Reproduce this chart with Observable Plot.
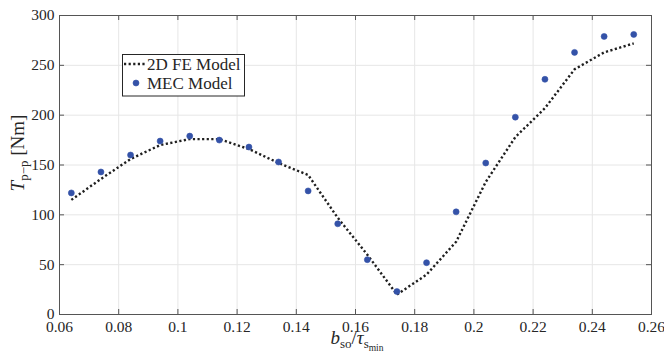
<!DOCTYPE html>
<html>
<head>
<meta charset="utf-8">
<script src="https://cdn.jsdelivr.net/npm/d3@7"></script>
<script src="https://cdn.jsdelivr.net/npm/@observablehq/plot@0.6"></script>
<style>
  html, body { margin: 0; padding: 0; background: #fff; }
  #chart svg { display: block; }
  #chart svg text { font-family: "Liberation Serif", "Times New Roman", serif; }
</style>
</head>
<body>
<div id="chart"></div>
<script>
// ---- data ----
const ratio = [0.064, 0.074, 0.084, 0.094, 0.104, 0.114, 0.124, 0.134, 0.144, 0.154,
               0.164, 0.174, 0.184, 0.194, 0.204, 0.214, 0.224, 0.234, 0.244, 0.254];
const feModel = [115, 136, 156, 170, 176, 176, 166, 152, 140, 97,
                 60, 20, 40, 73, 133, 178, 207, 246, 263, 272];
const mecModel = [122, 143, 160, 174, 179, 175, 168, 153, 124, 91,
                  55, 23, 52, 103, 152, 198, 236, 263, 279, 281];
const xTicks = [0.06, 0.08, 0.1, 0.12, 0.14, 0.16, 0.18, 0.2, 0.22, 0.24, 0.26];
const xTickLabels = ["0.06", "0.08", "0.1", "0.12", "0.14", "0.16", "0.18", "0.2", "0.22", "0.24", "0.26"];
const yTicks = [0, 50, 100, 150, 200, 250, 300];
const seriesNames = ["2D FE Model", "MEC Model"];

const feData = ratio.map((x, i) => ({x, y: feModel[i]}));
const mecData = ratio.map((x, i) => ({x, y: mecModel[i]}));

const W = 664, H = 360;
const mL = 59, mR = 13, mT = 15, mB = 46;
const plotW = W - mL - mR, plotH = H - mT - mB;
const tickLen = 5;
const frameColor = "#555";
const font = "'Liberation Serif', 'Times New Roman', serif";
const dotColor = "#3452a8";

const chart = Plot.plot({
  width: W,
  height: H,
  marginLeft: mL,
  marginRight: mR,
  marginTop: mT,
  marginBottom: mB,
  style: {fontFamily: font, fontSize: "15.5px", color: "#262626", background: "#fff"},
  x: {domain: [0.06, 0.26], label: null},
  y: {domain: [0, 300], label: null},
  marks: [
    Plot.gridX(xTicks, {stroke: "#e6e6e6", strokeOpacity: 1}),
    Plot.gridY(yTicks, {stroke: "#e6e6e6", strokeOpacity: 1}),
    Plot.line(feData, {x: "x", y: "y", stroke: "#1f1f1f", strokeWidth: 2.4,
                       strokeDasharray: "2.2,2.4", strokeLinecap: "butt"}),
    Plot.dot(mecData, {x: "x", y: "y", r: 3, fill: dotColor, stroke: dotColor, strokeWidth: 0.6}),
    Plot.tickX(xTicks, {x: d => d, insetTop: plotH - tickLen, stroke: frameColor}),
    Plot.tickX(xTicks, {x: d => d, insetBottom: plotH - tickLen, stroke: frameColor}),
    Plot.tickY(yTicks, {y: d => d, insetRight: plotW - tickLen, stroke: frameColor}),
    Plot.tickY(yTicks, {y: d => d, insetLeft: plotW - tickLen, stroke: frameColor}),
    Plot.frame({stroke: frameColor, strokeWidth: 1}),
    Plot.axisX(xTicks, {tickSize: 0, tickPadding: 6, tickFormat: (d, i) => xTickLabels[i],
                        fill: "#262626", label: null, fontFamily: font, fontSize: 15.5}),
    Plot.axisY(yTicks, {tickSize: 0, tickPadding: 5, fill: "#262626", label: null,
                        fontFamily: font, fontSize: 15.5})
  ]
});

document.getElementById("chart").appendChild(chart);

const svg = d3.select(chart);

// x axis label: b_so / tau_s_min
const xl = svg.append("text")
  .attr("x", 357).attr("y", 344)
  .attr("text-anchor", "middle")
  .attr("fill", "#262626")
  .style("font-size", "19px");
xl.append("tspan").attr("font-style", "italic").text("b");
xl.append("tspan").attr("font-size", "13px").attr("dy", 4).text("so");
xl.append("tspan").attr("dy", -4).text("/");
xl.append("tspan").attr("font-style", "italic").text("τ");
xl.append("tspan").attr("font-size", "13px").attr("dy", 4).text("s");
xl.append("tspan").attr("font-size", "9.5px").attr("dy", 2.5).text("min");

// y axis label: T_{p-p} [Nm]
const yl = svg.append("text")
  .attr("transform", "translate(24,153) rotate(-90)")
  .attr("text-anchor", "middle")
  .attr("fill", "#262626")
  .style("font-size", "19px");
yl.append("tspan").attr("font-style", "italic").text("T");
yl.append("tspan").attr("font-size", "13px").attr("dy", 4).text("p−p");
yl.append("tspan").attr("dy", -4).text(" [Nm]");

// legend
const lg = svg.append("g").style("font-size", "17px").attr("text-anchor", "start");
lg.append("rect")
  .attr("x", 122.5).attr("y", 54.5).attr("width", 122).attr("height", 41.5)
  .attr("fill", "#fff").attr("stroke", "#262626").attr("stroke-width", 1);
lg.append("line")
  .attr("x1", 124).attr("x2", 146).attr("y1", 64).attr("y2", 64)
  .attr("stroke", "#1f1f1f").attr("stroke-width", 2.4).attr("stroke-dasharray", "2.2,2.4");
lg.append("circle")
  .attr("cx", 136).attr("cy", 83).attr("r", 3)
  .attr("fill", dotColor).attr("stroke", dotColor).attr("stroke-width", 0.6);
lg.append("text").attr("x", 147).attr("y", 69.5).attr("fill", "#262626").attr("text-anchor", "start").text(seriesNames[0]);
lg.append("text").attr("x", 147).attr("y", 88.5).attr("fill", "#262626").attr("text-anchor", "start").text(seriesNames[1]);
</script>
</body>
</html>
